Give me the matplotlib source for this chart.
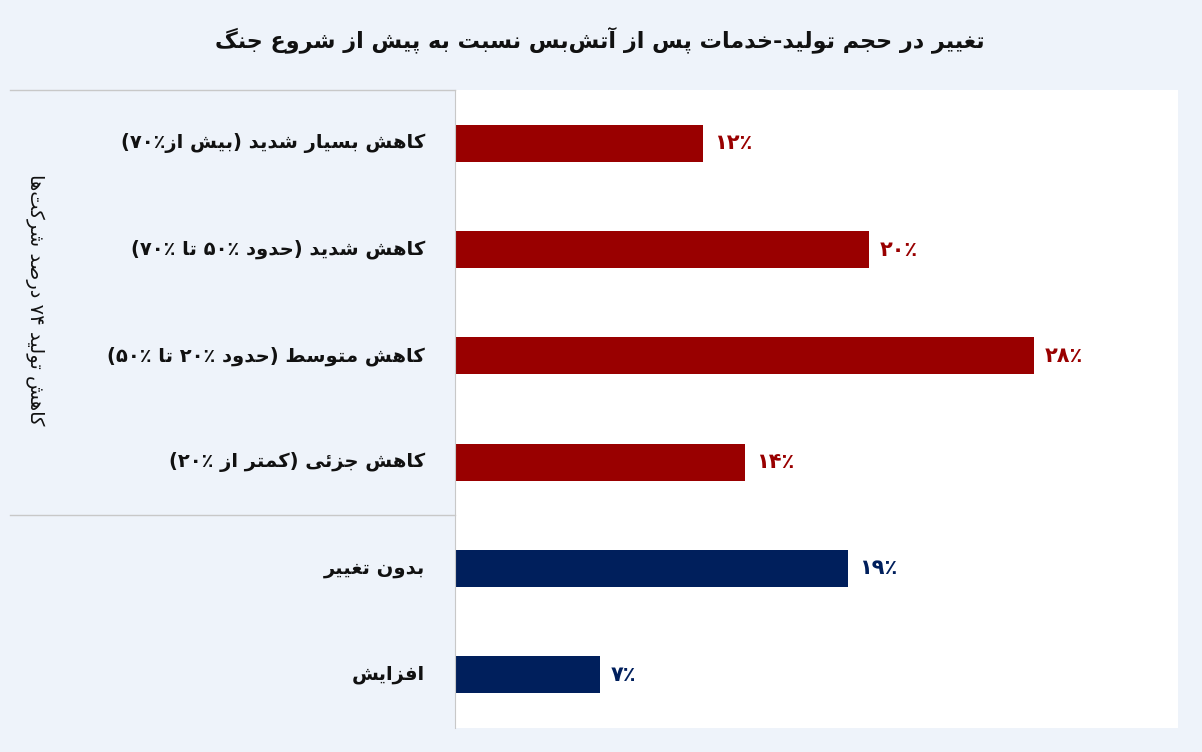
import matplotlib
matplotlib.use("Agg")
import matplotlib.pyplot as plt
from matplotlib.lines import Line2D
import re

plt.rcParams['font.family'] = ['DejaVu Sans']

# ---- minimal Persian shaper ----
FORMS = {
 'ا':(0xFE8D,0xFE8E,None,None),'آ':(0xFE81,0xFE82,None,None),
 'ب':(0xFE8F,0xFE90,0xFE91,0xFE92),'پ':(0xFB56,0xFB57,0xFB58,0xFB59),
 'ت':(0xFE95,0xFE96,0xFE97,0xFE98),'ج':(0xFE9D,0xFE9E,0xFE9F,0xFEA0),
 'ح':(0xFEA1,0xFEA2,0xFEA3,0xFEA4),'خ':(0xFEA5,0xFEA6,0xFEA7,0xFEA8),
 'د':(0xFEA9,0xFEAA,None,None),'ر':(0xFEAD,0xFEAE,None,None),
 'ز':(0xFEAF,0xFEB0,None,None),'س':(0xFEB1,0xFEB2,0xFEB3,0xFEB4),
 'ش':(0xFEB5,0xFEB6,0xFEB7,0xFEB8),'ص':(0xFEB9,0xFEBA,0xFEBB,0xFEBC),
 'ط':(0xFEC1,0xFEC2,0xFEC3,0xFEC4),'ع':(0xFEC9,0xFECA,0xFECB,0xFECC),
 'غ':(0xFECD,0xFECE,0xFECF,0xFED0),'ف':(0xFED1,0xFED2,0xFED3,0xFED4),
 'ک':(0xFB8E,0xFB8F,0xFB90,0xFB91),'گ':(0xFB92,0xFB93,0xFB94,0xFB95),
 'ل':(0xFEDD,0xFEDE,0xFEDF,0xFEE0),'م':(0xFEE1,0xFEE2,0xFEE3,0xFEE4),
 'ن':(0xFEE5,0xFEE6,0xFEE7,0xFEE8),'و':(0xFEED,0xFEEE,None,None),
 'ه':(0xFEE9,0xFEEA,0xFEEB,0xFEEC),'ی':(0xFBFC,0xFBFD,0xFBFE,0xFBFF),
 'ئ':(0xFE89,0xFE8A,0xFE8B,0xFE8C),
}
def dual(c):
    return c in FORMS and FORMS[c][2] is not None
def fa(s):
    out = []
    for i, c in enumerate(s):
        if c not in FORMS:
            out.append(c); continue
        p = s[i-1] if i > 0 else ''
        n = s[i+1] if i+1 < len(s) else ''
        jp = dual(p)
        jn = dual(c) and n in FORMS
        iso, fin, ini, med = FORMS[c]
        if jp and jn: ch = med
        elif jp: ch = fin
        elif jn: ch = ini
        else: ch = iso
        out.append(chr(ch))
    t = ''.join(out).replace('\u200c', '')
    t = t[::-1]
    t = re.sub('[۰-۹٪]+', lambda m: m.group(0)[::-1], t)
    t = t.translate(str.maketrans('()', ')('))
    return t

# ---- data ----
categories = ['کاهش بسیار شدید (بیش از۷۰٪)', 'کاهش شدید (حدود ۵۰٪ تا ۷۰٪)',
              'کاهش متوسط (حدود ۲۰٪ تا ۵۰٪)', 'کاهش جزئی (کمتر از ۲۰٪)',
              'بدون تغییر', 'افزایش']
values = [12, 20, 28, 14, 19, 7]
value_labels = ['۱۲٪', '۲۰٪', '۲۸٪', '۱۴٪', '۱۹٪', '۷٪']
colors = ['#990000'] * 4 + ['#001f5c'] * 2
title = 'تغییر در حجم تولید-خدمات پس از آتش‌بس نسبت به پیش از شروع جنگ'
group_label = 'کاهش تولید ۷۴ درصد شرکت‌ها'

W, H = 1202, 752
fig = plt.figure(figsize=(W/100, H/100), dpi=100, facecolor='#eef3fa')
ax = fig.add_axes([455/W, 24/H, 723/W, 638/H])
ax.set_facecolor('white')
ys = list(range(len(values)))
ax.barh(ys, values, height=0.35, color=colors)
ax.set_xlim(0, 723/20.68)
ax.set_ylim(5.5, -0.5)
ax.set_xticks([]); ax.set_yticks([])
for s in ax.spines.values():
    s.set_visible(False)
ax.spines['left'].set_visible(True)
ax.spines['left'].set_color('#c8c8c8')

for y, v, lab, c, cat in zip(ys, values, value_labels, colors, categories):
    ax.annotate(fa(lab), (v, y), xytext=(8, 0), textcoords='offset points',
                va='center', ha='left', color=c, fontsize=15, fontweight='bold')
    ax.text(-30/723, y, fa(cat), transform=ax.get_yaxis_transform(),
            ha='right', va='center', fontsize=14, fontweight='bold', color='#111111')

fig.text(600/W, 1-40/H, fa(title), ha='center', va='center',
         fontsize=16, fontweight='bold', color='#111111')
fig.text(35/W, 1-300/H, fa(group_label), ha='center', va='center',
         rotation=-90, fontsize=14, color='#111111')
for yy in (90, 515):
    fig.add_artist(Line2D([10/W, 455/W], [1-yy/H, 1-yy/H], color='#c8c8c8', lw=1))

fig.savefig('out.png', dpi=100, facecolor=fig.get_facecolor())
